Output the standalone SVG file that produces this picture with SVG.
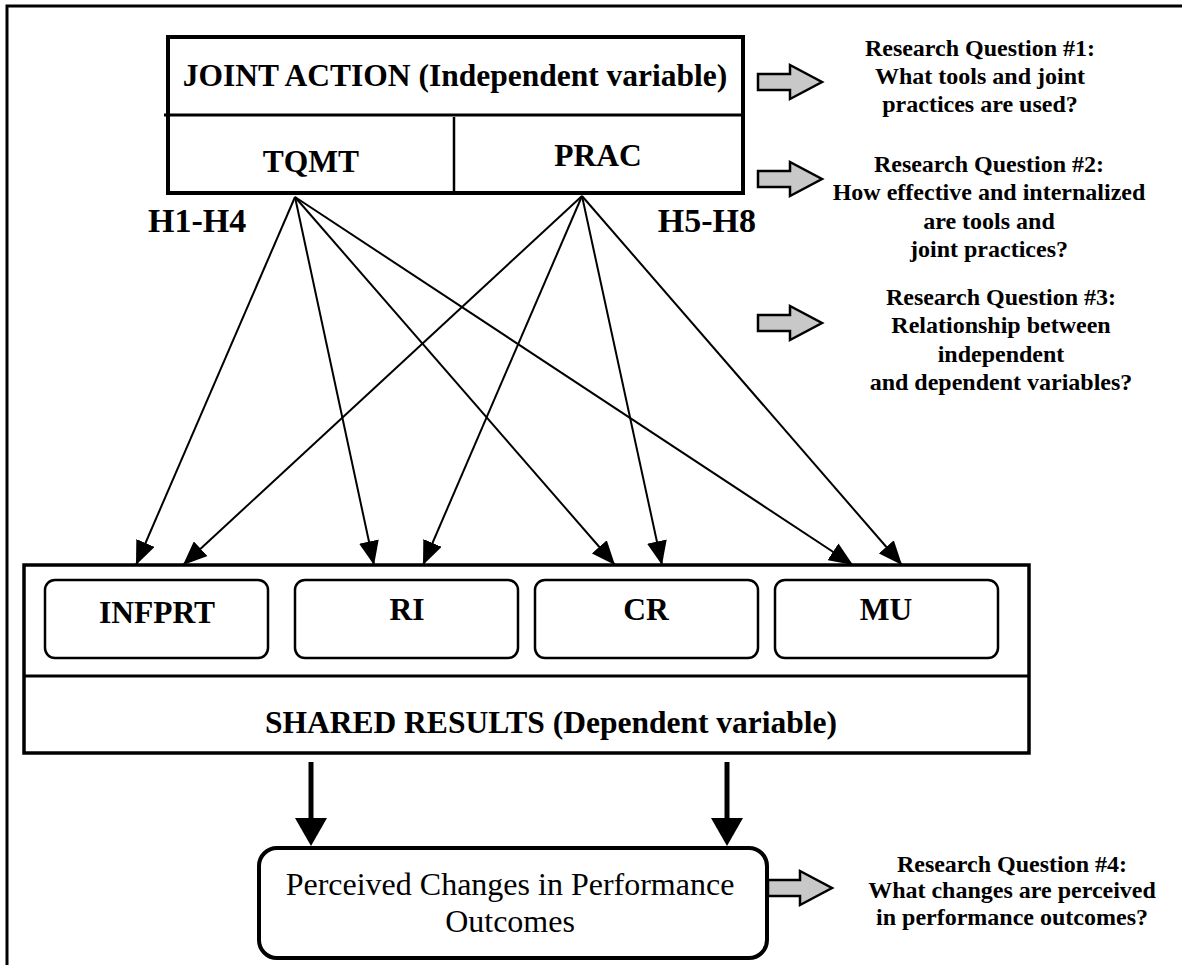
<svg xmlns="http://www.w3.org/2000/svg" width="1182" height="965" viewBox="0 0 1182 965">
  <defs>
    <style>
      .frame { fill: none; stroke: #000; stroke-width: 3; }
      .box { fill: #fff; stroke: #000; stroke-width: 4; }
      .inner { fill: #fff; stroke: #000; stroke-width: 2.5; }
      .rule { stroke: #000; stroke-width: 3; }
      .lbl { font-family: "Liberation Serif", "Times New Roman", serif; font-weight: bold; font-size: 31.5px; fill: #000; text-anchor: middle; }
      .hyp { font-family: "Liberation Serif", "Times New Roman", serif; font-weight: bold; font-size: 34px; fill: #000; }
      .rq { font-family: "Liberation Serif", "Times New Roman", serif; font-weight: bold; font-size: 24px; fill: #000; text-anchor: middle; }
      .plain { font-family: "Liberation Serif", "Times New Roman", serif; font-size: 32px; fill: #000; text-anchor: middle; }
      .link { stroke: #000; stroke-width: 2; fill: none; marker-end: url(#head); }
      .thick { stroke: #000; stroke-width: 5; fill: none; }
      .block { fill: #c8c8c8; stroke: #000; stroke-width: 2.5; stroke-linejoin: miter; }
    </style>
    <marker id="head" viewBox="0 0 24 20" refX="24" refY="10" markerWidth="24" markerHeight="20" markerUnits="userSpaceOnUse" orient="auto">
      <path d="M0,0 L24,10 L0,20 Z" fill="#000"/>
    </marker>
    <path id="blockArrow" d="M0,-8 L32,-8 L32,-17 L64,0 L32,17 L32,8 L0,8 Z"/>
  </defs>

  <!-- page frame (top and left edges) -->
  <path class="frame" d="M7,965 L7,6 L1182,6"/>

  <!-- independent variable block -->
  <g id="joint-action">
    <rect class="box" x="168" y="37" width="575" height="156"/>
    <line class="rule" x1="164" y1="115" x2="743" y2="115"/>
    <line class="rule" x1="454" y1="117" x2="454" y2="193" style="stroke-width:2.5"/>
    <text class="lbl" x="455" y="86">JOINT ACTION (Independent variable)</text>
  </g>
  <g id="tqmt"><text class="lbl" x="311" y="172">TQMT</text></g>
  <g id="prac"><text class="lbl" x="598" y="166">PRAC</text></g>

  <!-- hypothesis labels -->
  <g id="h1-h4"><text class="hyp" x="148" y="232">H1-H4</text></g>
  <g id="h5-h8"><text class="hyp" x="756" y="232" text-anchor="end">H5-H8</text></g>

  <!-- dependent variable block -->
  <g id="shared-results">
    <rect class="box" x="24" y="565" width="1005" height="188" style="stroke-width:3.5"/>
    <line class="rule" x1="24" y1="676" x2="1029" y2="676"/>
    <text class="lbl" x="551" y="733">SHARED RESULTS (Dependent variable)</text>
  </g>
  <g id="infprt">
    <rect class="inner" x="45" y="580" width="223" height="78" rx="10"/>
    <text class="lbl" x="157" y="623">INFPRT</text>
  </g>
  <g id="ri">
    <rect class="inner" x="295" y="580" width="223" height="78" rx="10"/>
    <text class="lbl" x="407" y="620">RI</text>
  </g>
  <g id="cr">
    <rect class="inner" x="535" y="580" width="223" height="78" rx="10"/>
    <text class="lbl" x="646" y="620">CR</text>
  </g>
  <g id="mu">
    <rect class="inner" x="775" y="580" width="223" height="78" rx="10"/>
    <text class="lbl" x="886" y="620">MU</text>
  </g>

  <!-- outcome node -->
  <g id="outcomes">
    <rect class="box" x="259" y="848" width="508" height="110" rx="18"/>
    <text class="plain" x="510" y="895">Perceived Changes in Performance</text>
    <text class="plain" x="510" y="932">Outcomes</text>
  </g>

  <!-- research questions -->
  <g id="rq1">
    <use href="#blockArrow" class="block" transform="translate(758,82)"/>
    <text class="rq" x="980" y="56">Research Question #1:</text>
    <text class="rq" x="980" y="84">What tools and joint</text>
    <text class="rq" x="980" y="112">practices are used?</text>
  </g>
  <g id="rq2">
    <use href="#blockArrow" class="block" transform="translate(758,179)"/>
    <text class="rq" x="989" y="172">Research Question #2:</text>
    <text class="rq" x="989" y="200">How effective and internalized</text>
    <text class="rq" x="989" y="229">are tools and</text>
    <text class="rq" x="989" y="257">joint practices?</text>
  </g>
  <g id="rq3">
    <use href="#blockArrow" class="block" transform="translate(758,323)"/>
    <text class="rq" x="1001" y="305">Research Question #3:</text>
    <text class="rq" x="1001" y="333">Relationship between</text>
    <text class="rq" x="1001" y="362">independent</text>
    <text class="rq" x="1001" y="390">and dependent variables?</text>
  </g>
  <g id="rq4">
    <use href="#blockArrow" class="block" transform="translate(768,888)"/>
    <text class="rq" x="1012" y="872">Research Question #4:</text>
    <text class="rq" x="1012" y="898">What changes are perceived</text>
    <text class="rq" x="1012" y="925">in performance outcomes?</text>
  </g>

  <!-- connectors -->
  <g id="connectors">
    <line class="link" x1="295" y1="197" x2="136" y2="565"/>
    <line class="link" x1="295" y1="197" x2="374" y2="565"/>
    <line class="link" x1="295" y1="197" x2="615" y2="565"/>
    <line class="link" x1="295" y1="197" x2="853" y2="565"/>
    <line class="link" x1="582" y1="196" x2="183" y2="565"/>
    <line class="link" x1="582" y1="196" x2="423" y2="565"/>
    <line class="link" x1="582" y1="196" x2="662" y2="565"/>
    <line class="link" x1="582" y1="196" x2="902" y2="565"/>
    <line class="thick" x1="311" y1="762" x2="311" y2="820"/>
    <path d="M295,818 L327,818 L311,846 Z" fill="#000"/>
    <line class="thick" x1="727" y1="762" x2="727" y2="820"/>
    <path d="M711,818 L743,818 L727,846 Z" fill="#000"/>
  </g>
</svg>
